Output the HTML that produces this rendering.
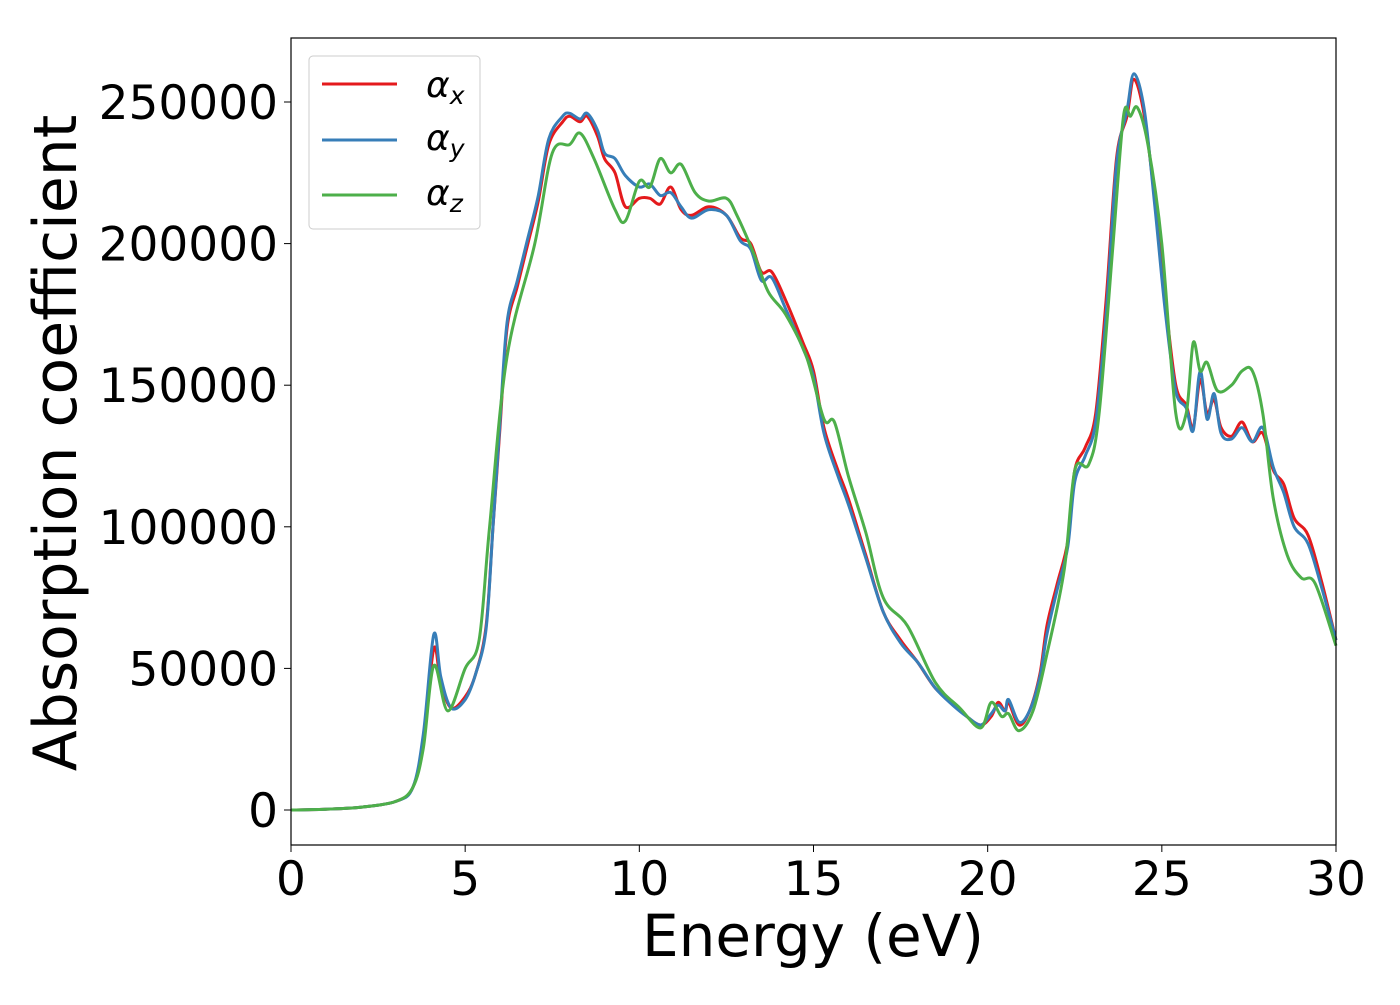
<!DOCTYPE html>
<html><head><meta charset="utf-8"><style>
body{margin:0;background:#fff}
svg text{font-family:"DejaVu Sans","Liberation Sans",sans-serif;fill:#000}
</style></head><body>
<svg width="1400" height="1000" viewBox="0 0 1400 1000" xmlns="http://www.w3.org/2000/svg">
<g id="series"></g>
<rect x="291" y="38" width="1045" height="807" fill="none" stroke="#000" stroke-width="1.2"/>
<g id="axes"></g>
<text x="813" y="956" font-size="58" text-anchor="middle">Energy (eV)</text>
<text transform="translate(76,443) rotate(-90)" font-size="60" text-anchor="middle">Absorption coefficient</text>
<g>
<rect x="309" y="56" width="171" height="173" rx="4" fill="#fff" fill-opacity="0.8" stroke="#ccc"/>
<line x1="322" y1="84" x2="397" y2="84" stroke="#e41a1c" stroke-width="3"/>
<text x="426" y="97" font-size="36" font-style="italic">α<tspan font-size="25" dy="7">x</tspan></text>
<line x1="322" y1="140" x2="397" y2="140" stroke="#377eb8" stroke-width="3"/>
<text x="426" y="150" font-size="36" font-style="italic">α<tspan font-size="25" dy="7">y</tspan></text>
<line x1="322" y1="195" x2="397" y2="195" stroke="#4daf4a" stroke-width="3"/>
<text x="426" y="205" font-size="36" font-style="italic">α<tspan font-size="25" dy="7">z</tspan></text>
</g>
</svg>
<script>
const xTicks=[0,5,10,15,20,25,30];
const yTicks=[0,50000,100000,150000,200000,250000];
const ex=[0,1,2,3,3.5,3.8,4.1,4.3,4.6,5.0,5.3,5.6,5.8,6.0,6.2,6.5,6.8,7.1,7.4,7.8,8.0,8.3,8.5,8.8,9.0,9.3,9.6,10.0,10.3,10.6,10.9,11.2,11.5,12.0,12.5,12.9,13.2,13.5,13.8,14.2,14.7,15.0,15.3,15.7,16.0,16.5,17.0,17.5,18.0,18.5,19.0,19.4,19.8,20.1,20.3,20.5,20.6,20.9,21.2,21.5,21.7,22.0,22.3,22.5,22.8,23.1,23.4,23.7,24.0,24.2,24.5,24.8,25.1,25.4,25.7,25.9,26.1,26.3,26.5,26.7,27.0,27.3,27.6,27.9,28.2,28.5,28.8,29.2,29.6,30.0];
const ax=[0,300,1000,3000,8000,25000,57000,45000,36000,40000,48000,65000,100000,135000,170000,185000,200000,215000,235000,243000,245000,243000,245000,238000,230000,225000,213000,216000,216000,214000,220000,212000,210000,213000,210000,202000,200000,190000,190000,180000,165000,155000,135000,120000,110000,90000,70000,60000,52000,43000,38000,33000,30000,33000,38000,35000,38000,30000,35000,48000,65000,80000,95000,120000,128000,140000,180000,230000,245000,258000,245000,215000,180000,150000,143000,135000,152000,140000,145000,135000,132000,137000,130000,133000,120000,115000,103000,97000,80000,60000];
const ay=[0,300,1000,3000,8000,27000,62000,47000,36000,39000,48000,64000,100000,137000,172000,187000,202000,217000,237000,245000,246000,244000,246000,240000,232000,230000,224000,220000,221000,217000,218000,213000,209000,212000,210000,201000,198000,187000,188000,177000,163000,153000,133000,118000,108000,89000,70000,59000,52000,43000,37000,33000,30000,34000,37000,35000,39000,31000,35000,47000,62000,78000,93000,116000,125000,137000,175000,228000,247000,260000,247000,213000,176000,148000,142000,134000,155000,138000,147000,133000,131000,135000,130000,135000,121000,112000,100000,94000,78000,60000];
const zx=[0,1,2,3,3.5,3.8,4.1,4.5,5.0,5.4,5.7,6.2,7.0,7.5,8.0,8.3,8.7,9.3,9.6,10.0,10.3,10.6,10.9,11.2,11.6,12.0,12.5,12.8,13.3,13.7,14.2,14.8,15.3,15.6,16.0,16.5,17.0,17.7,18.5,19.2,19.8,20.1,20.4,20.6,20.9,21.3,21.7,22.2,22.5,22.9,23.2,23.6,23.9,24.1,24.3,24.6,25.0,25.4,25.7,25.9,26.1,26.3,26.6,27.0,27.3,27.6,27.9,28.2,28.6,29.0,29.4,30.0];
const az=[0,300,1000,3000,8000,22000,51000,35000,50000,60000,100000,160000,200000,232000,235000,239000,230000,212000,208000,222000,220000,230000,225000,228000,218000,215000,216000,210000,196000,183000,175000,160000,138000,137000,118000,98000,75000,65000,45000,36000,29000,38000,33000,34000,28000,35000,55000,85000,120000,122000,140000,200000,245000,245000,248000,235000,200000,140000,140000,165000,155000,158000,148000,150000,155000,155000,140000,110000,90000,82000,80000,58000];
const NS="http://www.w3.org/2000/svg";
const X0=291,X1=1336,Y0=810,Yk=708/250000;
function sx(v){return X0+(v/30)*(X1-X0);}
function sy(v){return Y0-v*Yk;}
const sg=document.getElementById('series'),axg=document.getElementById('axes');
function line(xs,ys,color,name){
 const P=xs.map((x,i)=>[sx(x),sy(ys[i])]);
 let d='M'+P[0][0].toFixed(1)+','+P[0][1].toFixed(1);
 for(let i=0;i<P.length-1;i++){
  const p0=P[Math.max(0,i-1)],p1=P[i],p2=P[i+1],p3=P[Math.min(P.length-1,i+2)];
  const c1=[p1[0]+(p2[0]-p0[0])/6,p1[1]+(p2[1]-p0[1])/6];
  const c2=[p2[0]-(p3[0]-p1[0])/6,p2[1]-(p3[1]-p1[1])/6];
  d+='C'+c1[0].toFixed(1)+','+c1[1].toFixed(1)+' '+c2[0].toFixed(1)+','+c2[1].toFixed(1)+' '+p2[0].toFixed(1)+','+p2[1].toFixed(1);
 }
 const p=document.createElementNS(NS,'path');
 p.setAttribute('d',d);
 p.setAttribute('fill','none');p.setAttribute('stroke',color);p.setAttribute('stroke-width','3');p.setAttribute('stroke-linejoin','round');
 
 
 sg.appendChild(p);
}
line(ex,ax,'#e41a1c','series-alpha-x');
line(ex,ay,'#377eb8','series-alpha-y');
line(zx,az,'#4daf4a','series-alpha-z');
xTicks.forEach(t=>{
 const l=document.createElementNS(NS,'line');
 l.setAttribute('x1',sx(t));l.setAttribute('x2',sx(t));l.setAttribute('y1',845);l.setAttribute('y2',852);l.setAttribute('stroke','#000');
 
 
 axg.appendChild(l);
 const s=document.createElementNS(NS,'text');
 s.setAttribute('x',sx(t));s.setAttribute('y',895);s.setAttribute('font-size','47');s.setAttribute('text-anchor','middle');
 s.textContent=t;
 
 
 axg.appendChild(s);
});
yTicks.forEach(t=>{
 const l=document.createElementNS(NS,'line');
 l.setAttribute('x1',284);l.setAttribute('x2',291);l.setAttribute('y1',sy(t));l.setAttribute('y2',sy(t));l.setAttribute('stroke','#000');
 
 
 axg.appendChild(l);
 const s=document.createElementNS(NS,'text');
 s.setAttribute('x',278);s.setAttribute('y',sy(t)+17);s.setAttribute('font-size','47');s.setAttribute('text-anchor','end');
 s.textContent=t;
 
 
 axg.appendChild(s);
});
</script>
</body></html>
